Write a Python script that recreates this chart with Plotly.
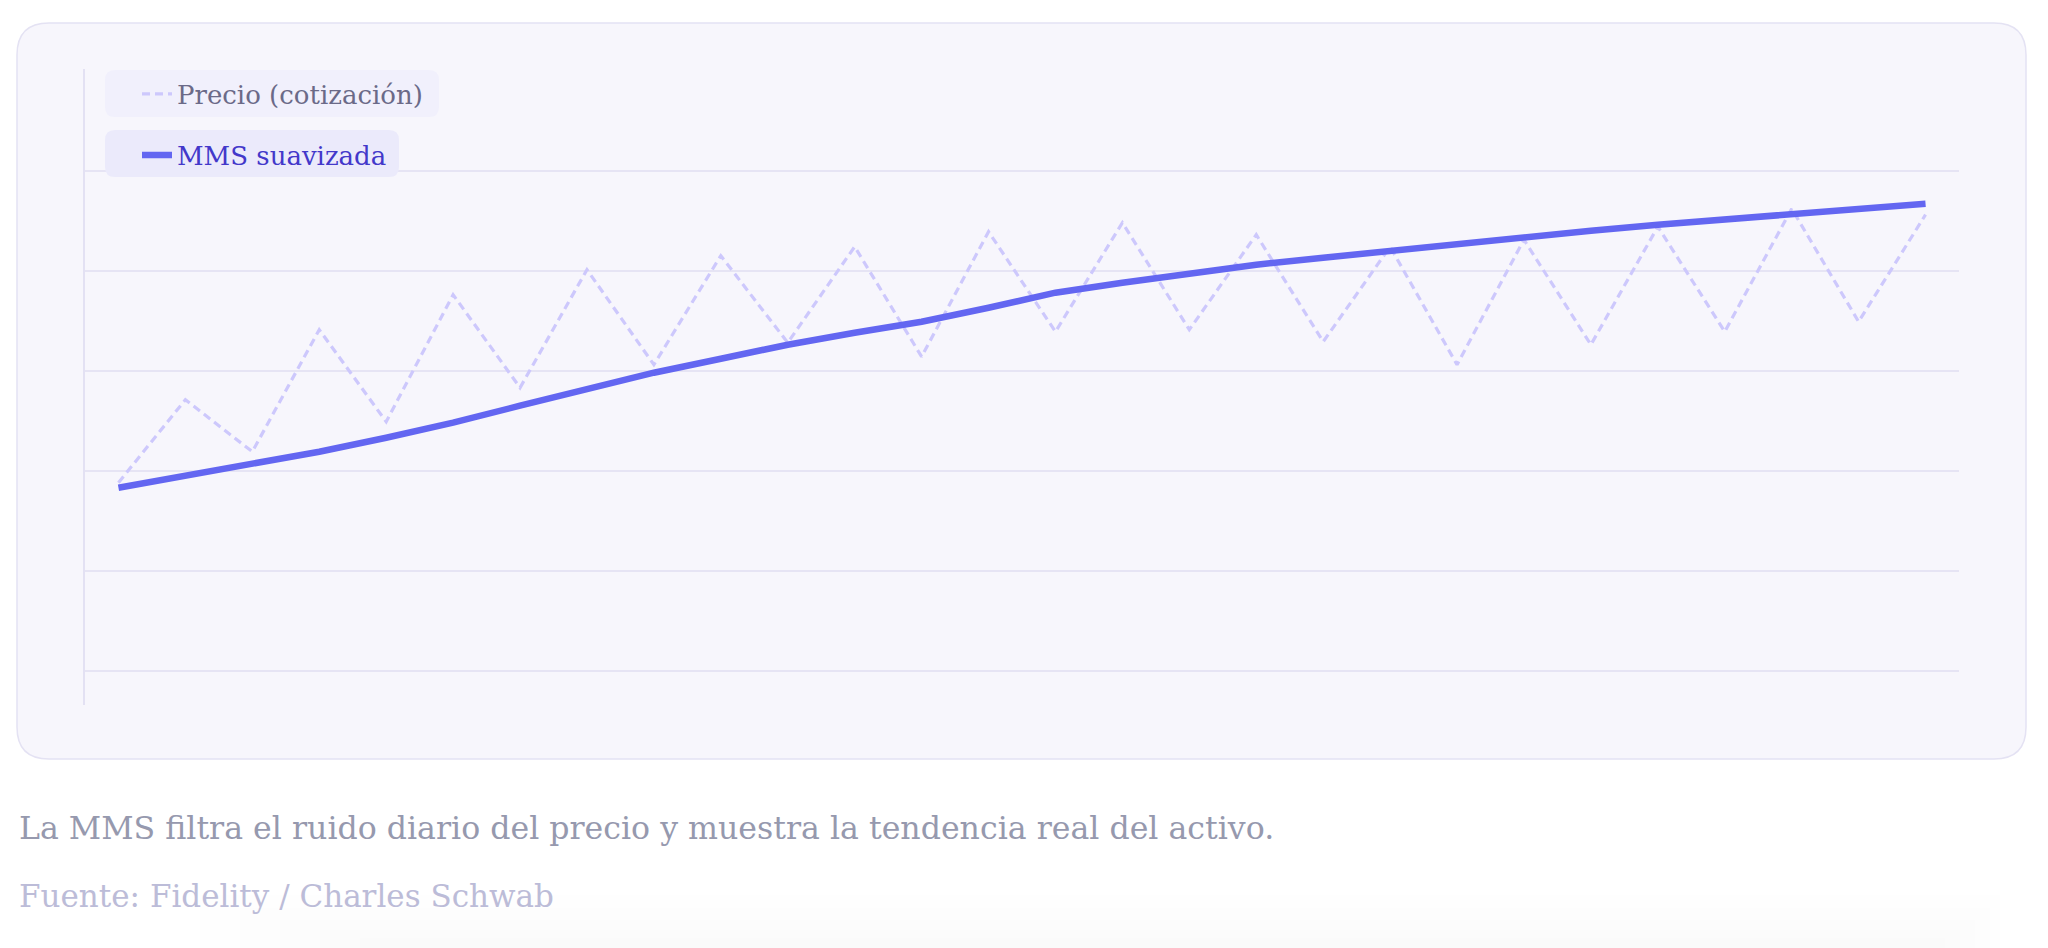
import plotly.graph_objects as go

# Price vs. smoothed SMA
days = list(range(1, 29))
precio = [98.8, 107.1, 101.9, 114.1, 104.9, 117.6, 108.3, 120.1, 110.6, 121.5,
          112.8, 122.4, 111.4, 123.9, 113.9, 124.8, 114.1, 123.6, 112.9, 122.4,
          110.6, 123.1, 112.6, 124.4, 113.9, 126.2, 114.9, 125.6]
mms = [98.3, 99.5, 100.6, 101.9, 103.3, 104.8, 106.5, 108.1, 109.8, 111.2,
       112.6, 113.8, 114.9, 116.3, 117.8, 118.8, 119.7, 120.6, 121.3, 122.0,
       122.7, 123.4, 124.0, 124.6, 125.1, 125.6, 126.1, 126.7]
grid_vals = [80, 90, 100, 110, 120, 130]

caption = "La MMS filtra el ruido diario del precio y muestra la tendencia real del activo."
source = "Fuente: Fidelity / Charles Schwab"

W, H = 2048, 948
L, R, T, B = 85, 89, 69, 243
PW, PH = W - L - R, H - T - B


def px(x):
    return (x - L) / PW


def py(y):
    return (H - B - y) / PH


def rbox(x0, y0, x1, y1, r):
    # rounded rectangle path in paper coords from pixel positions
    return (f"M {px(x0 + r)},{py(y0)} L {px(x1 - r)},{py(y0)} "
            f"Q {px(x1)},{py(y0)} {px(x1)},{py(y0 + r)} L {px(x1)},{py(y1 - r)} "
            f"Q {px(x1)},{py(y1)} {px(x1 - r)},{py(y1)} L {px(x0 + r)},{py(y1)} "
            f"Q {px(x0)},{py(y1)} {px(x0)},{py(y1 - r)} L {px(x0)},{py(y0 + r)} "
            f"Q {px(x0)},{py(y0)} {px(x0 + r)},{py(y0)} Z")


serif = "DejaVu Serif"

fig = go.Figure()
fig.add_trace(go.Scatter(x=days, y=precio, mode='lines', name='Precio (cotización)',
                         line=dict(color='#cdc8fc', width=3.2, dash='8px,5px'),
                         legend='legend', showlegend=True))
fig.add_trace(go.Scatter(x=days, y=mms, mode='lines', name='MMS suavizada',
                         line=dict(color='#6366f1', width=6.5),
                         legend='legend2', showlegend=True))

shapes = [
    dict(type='path', path=rbox(17, 23, 2026, 759, 32), xref='paper', yref='paper',
         fillcolor='#f7f6fc', line=dict(color='#e4e2f3', width=1.5), layer='below'),
    dict(type='path', path=rbox(105, 70, 439, 117, 10), xref='paper', yref='paper',
         fillcolor='#f1f0fc', line=dict(width=0), layer='above'),
    dict(type='path', path=rbox(105, 130, 399, 177, 10), xref='paper', yref='paper',
         fillcolor='#ebeafb', line=dict(width=0), layer='above'),
]
# faint shadow at the bottom of the page, fading towards the edges
for x0, x1, top in [(200, 2000, 895), (240, 1990, 908), (280, 1975, 920),
                    (320, 1960, 930), (360, 1945, 938)]:
    shapes.append(dict(type='rect', x0=px(x0), x1=px(x1), y0=py(top), y1=py(H),
                       xref='paper', yref='paper', fillcolor='rgb(120,120,150)',
                       opacity=0.009, line=dict(width=0), layer='below'))

fig.update_layout(
    width=W, height=H,
    margin=dict(l=L, r=R, t=T, b=B),
    paper_bgcolor='white',
    plot_bgcolor='rgba(0,0,0,0)',
    shapes=shapes,
    showlegend=True,
    xaxis=dict(range=[0.5, 28.5], showgrid=False, zeroline=False,
               showticklabels=False, ticks=''),
    yaxis=dict(range=[76.57, 140.17], tickvals=grid_vals, showticklabels=False,
               showgrid=True, gridcolor='#e6e4f4', gridwidth=1.5, zeroline=False,
               showline=True, linecolor='#e3e1f3', linewidth=2, ticks=''),
    legend=dict(x=px(137), y=py(94), xanchor='left', yanchor='middle',
                bgcolor='rgba(0,0,0,0)', font=dict(family=serif, size=26, color='#6b6a88')),
    legend2=dict(x=px(137), y=py(155), xanchor='left', yanchor='middle',
                 bgcolor='rgba(0,0,0,0)', font=dict(family=serif, size=26, color='#4338ca')),
    annotations=[
        dict(text=caption, xref='paper', yref='paper', x=px(17), y=py(828),
             xanchor='left', yanchor='middle', showarrow=False,
             font=dict(family=serif, size=31.6, color='#9699ae')),
        dict(text=source, xref='paper', yref='paper', x=px(17), y=py(896),
             xanchor='left', yanchor='middle', showarrow=False,
             font=dict(family=serif, size=31, color='#bcbcd8')),
    ],
    hovermode=False,
)

fig.write_html("out.html", config={'displayModeBar': False},
               post_script="document.body.style.margin='0px';")
